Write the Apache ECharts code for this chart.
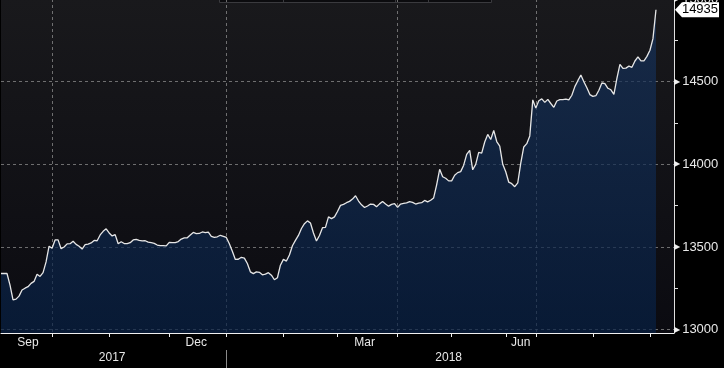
<!DOCTYPE html>
<html>
<head>
<meta charset="utf-8">
<script src="https://cdn.jsdelivr.net/npm/echarts@6/dist/echarts.min.js"></script>
<style>
html,body{margin:0;padding:0;background:#000;}
#chart{width:724px;height:368px;}
</style>
</head>
<body>
<div id="chart"></div>
<script>
// Daily closes (trading days, late Aug 2017 -> early Aug 2018)
const values = [
13340,13340,13340,13270,13180,13185,13203,13240,13251,13260,
13280,13292,13335,13322,13345,13410,13505,13492,13543,13543,
13490,13500,13519,13520,13535,13516,13505,13488,13514,13518,
13525,13540,13538,13573,13595,13610,13585,13567,13575,13520,
13532,13521,13520,13526,13543,13546,13540,13537,13538,13530,
13526,13522,13512,13508,13508,13507,13528,13527,13527,13533,
13548,13555,13556,13573,13588,13581,13582,13591,13587,13590,
13564,13558,13562,13571,13565,13558,13520,13475,13425,13426,
13438,13433,13400,13350,13339,13350,13347,13332,13336,13345,
13330,13302,13314,13390,13425,13415,13452,13508,13540,13570,
13612,13641,13658,13645,13585,13536,13570,13617,13619,13682,
13672,13682,13715,13752,13758,13768,13776,13790,13810,13778,
13755,13739,13748,13760,13758,13744,13761,13775,13760,13747,
13758,13762,13740,13760,13764,13767,13775,13770,13760,13766,
13768,13782,13773,13783,13797,13876,13970,13925,13916,13900,
13900,13934,13950,13956,13995,14060,14085,13967,14000,14072,
14068,14135,14181,14150,14205,14138,14110,14000,13955,13892,
13883,13865,13888,14007,14105,14125,14172,14390,14340,14385,
14396,14375,14393,14368,14345,14383,14391,14391,14395,14390,
14418,14470,14506,14540,14500,14463,14422,14411,14415,14448,
14492,14488,14460,14451,14423,14520,14605,14581,14582,14594,
14587,14625,14650,14626,14626,14653,14690,14760,14935
];
const totalSlots = 225; // trading-day slots on the axis (data + empty right margin)
const tickIdx = [17,36,56,75,94,112,132,150,168,178,197,216];
const gridIdx = [17,75,132,178];
const monthLabels = ['Sep','Dec','Mar','Jun'];
const monthLabelIdx = [9,65,121,173];
const yearLabels = ['2017','2018'];
const yearLabelIdx = [37,149];
const yearSepIdx = [75];
const yMin = 12980, yMax = 15000;

const categories = Array.from({length: totalSlots}, (_, i) => String(i));
const lastVal = values[values.length - 1];

const chart = echarts.init(document.getElementById('chart'), null, {renderer: 'canvas'});
const font = "'Liberation Sans', Arial, sans-serif";
const gridDash = {color: 'rgba(150,150,150,0.7)', type: [3, 3], width: 1};

chart.setOption({
  animation: false,
  backgroundColor: '#000',
  grid: {
    left: 1, right: 50, top: -1, bottom: 35,
    containLabel: false,
    outerBoundsMode: 'none',
    show: true, borderWidth: 0,
    backgroundColor: new echarts.graphic.LinearGradient(0, 0, 0, 1, [
      {offset: 0, color: '#19191c'},
      {offset: 1, color: '#0b0b11'}
    ])
  },
  xAxis: [{
    type: 'category',
    data: categories,
    boundaryGap: false,
    z: 3,
    axisLine: {show: true, lineStyle: {color: '#f0f0f0', width: 1}},
    axisTick: {show: true, length: 4, lineStyle: {color: '#f0f0f0'},
      interval: (i) => tickIdx.includes(i)},
    axisLabel: {
      show: true, margin: 4, color: '#e8e8e8', fontSize: 12, fontFamily: font,
      interval: (i) => monthLabelIdx.includes(i),
      formatter: (v, i) => { const k = monthLabelIdx.indexOf(i); return k >= 0 ? monthLabels[k] : ''; }
    },
    splitLine: {show: true, lineStyle: gridDash, interval: (i) => gridIdx.includes(i)}
  }, {
    type: 'category',
    data: categories,
    boundaryGap: false,
    position: 'bottom',
    offset: 17,
    z: 3,
    axisLine: {show: false},
    axisTick: {show: true, length: 18, lineStyle: {color: '#8a8a8a'},
      interval: (i) => yearSepIdx.includes(i)},
    axisLabel: {
      show: true, margin: 2, color: '#e8e8e8', fontSize: 12, fontFamily: font,
      interval: (i) => yearLabelIdx.includes(i),
      formatter: (v, i) => { const k = yearLabelIdx.indexOf(i); return k >= 0 ? yearLabels[k] : ''; }
    },
    splitLine: {show: false}
  }],
  yAxis: {
    type: 'value',
    position: 'right',
    min: yMin, max: yMax,
    splitNumber: 4,
    z: 3,
    axisLine: {show: true, lineStyle: {color: '#e0e0e0', width: 1}},
    axisTick: {show: false},
    minorTick: {show: true, splitNumber: 2, length: 4, lineStyle: {color: '#e0e0e0'}},
    minorSplitLine: {show: false},
    axisLabel: {
      show: true, margin: 0, color: '#e8e8e8', fontSize: 13, fontFamily: font,
      showMinLabel: false,
      formatter: (v) => (v % 500 === 0 ? '{a|▶}' + v : ''),
      rich: {a: {fontSize: 8, fontFamily: 'DejaVu Sans', color: '#f0f0f0', padding: [0, 2, 0, 0]}}
    },
    splitLine: {show: true, lineStyle: gridDash}
  },
  series: [{
    type: 'line',
    data: values,
    xAxisIndex: 0,
    showSymbol: false,
    symbol: 'none',
    clip: false,
    lineStyle: {color: '#e6e6e6', width: 1.3},
    areaStyle: {
      color: new echarts.graphic.LinearGradient(0, 0, 0, 1, [
        {offset: 0, color: '#17325a'},
        {offset: 1, color: '#072044'}
      ])
    },
    markPoint: {
      silent: true,
      symbol: 'path://M0,7L7,0L44,0L44,14L7,14Z',
      symbolSize: [44, 15],
      symbolOffset: [41, 0],
      itemStyle: {color: '#ffffff'},
      label: {show: true, color: '#000', fontSize: 13, fontFamily: font, offset: [3, 0],
        formatter: (p) => String(p.value)},
      data: [{coord: [values.length - 1, lastVal], value: lastVal}]
    }
  }],
  graphic: [{
    type: 'group',
    silent: true,
    children: [
      {type: 'rect', shape: {x: 219.5, y: -6, width: 272, height: 8.5},
        style: {fill: '#0b0b0e', stroke: '#3a3a3e', lineWidth: 1}},
      {type: 'line', shape: {x1: 283.5, y1: 0, x2: 283.5, y2: 2.5}, style: {stroke: '#3a3a3e'}},
      {type: 'line', shape: {x1: 395.5, y1: 0, x2: 395.5, y2: 2.5}, style: {stroke: '#3a3a3e'}},
      {type: 'line', shape: {x1: 428.5, y1: 0, x2: 428.5, y2: 2.5}, style: {stroke: '#3a3a3e'}}
    ]
  }]
});
</script>
</body>
</html>
